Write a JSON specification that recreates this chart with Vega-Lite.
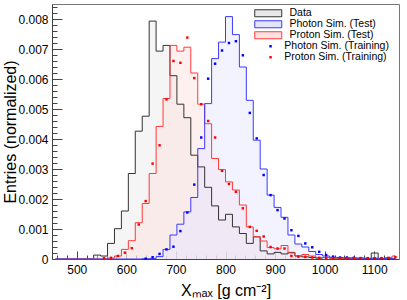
{
  "$schema": "https://vega.github.io/schema/vega-lite/v6.json",
  "width": 347,
  "height": 255,
  "autosize": {"type": "none"},
  "padding": {"left": 52, "top": 4, "right": 8, "bottom": 41},
  "background": "white",
  "config": {
    "font": "Liberation Sans",
    "view": {"stroke": "#777", "strokeWidth": 1},
    "axis": {"grid": false, "domainColor": "#444", "tickColor": "#444", "labelColor": "black", "titleColor": "black", "titleFontWeight": "normal", "labelFont": "Liberation Sans", "titleFont": "Liberation Sans"},
    "legend": {"labelFont": "Liberation Sans", "labelColor": "black"}
  },
  "datasets": {
    "dataHist": [
      {"x": 457, "y": 0}, {"x": 471, "y": 0}, {"x": 485, "y": 0}, {"x": 499, "y": 0}, {"x": 513, "y": 0},
      {"x": 527, "y": 0}, {"x": 541, "y": 0.00013}, {"x": 555, "y": 0.0001}, {"x": 569, "y": 0.00052}, {"x": 583, "y": 0.00101},
      {"x": 597, "y": 0.0016}, {"x": 611, "y": 0.00285}, {"x": 625, "y": 0.00426}, {"x": 639, "y": 0.00476}, {"x": 653, "y": 0.00793},
      {"x": 667, "y": 0.00693}, {"x": 681, "y": 0.00712}, {"x": 695, "y": 0.00611}, {"x": 709, "y": 0.00516}, {"x": 723, "y": 0.00471},
      {"x": 737, "y": 0.00346}, {"x": 751, "y": 0.00307}, {"x": 765, "y": 0.00239}, {"x": 779, "y": 0.00177}, {"x": 793, "y": 0.0013},
      {"x": 807, "y": 0.00149}, {"x": 821, "y": 0.00107}, {"x": 835, "y": 0.00085}, {"x": 849, "y": 0.00052}, {"x": 863, "y": 0.00074},
      {"x": 877, "y": 0.00027}, {"x": 891, "y": 0.00017}, {"x": 905, "y": 0.00022}, {"x": 919, "y": 0.00017}, {"x": 933, "y": 0.00022},
      {"x": 947, "y": 0.0001}, {"x": 961, "y": 0.00007}, {"x": 975, "y": 0.00005}, {"x": 989, "y": 0.00003}, {"x": 1003, "y": 0.00005},
      {"x": 1017, "y": 0.00003}, {"x": 1031, "y": 0.00003}, {"x": 1045, "y": 0.00002}, {"x": 1059, "y": 0.00003}, {"x": 1073, "y": 0},
      {"x": 1087, "y": 0.00002}, {"x": 1101, "y": 0.0002}, {"x": 1115, "y": 0.00002}, {"x": 1129, "y": 0.00003}, {"x": 1143, "y": 0}
    ],
    "photonTest": [
      {"x": 457, "y": 0}, {"x": 471, "y": 0}, {"x": 485, "y": 0}, {"x": 499, "y": 0}, {"x": 513, "y": 0},
      {"x": 527, "y": 0}, {"x": 541, "y": 0}, {"x": 555, "y": 0}, {"x": 569, "y": 0}, {"x": 583, "y": 0},
      {"x": 597, "y": 0}, {"x": 611, "y": 0}, {"x": 625, "y": 0}, {"x": 639, "y": 0.00001}, {"x": 653, "y": 0.00002},
      {"x": 667, "y": 0.00008}, {"x": 681, "y": 0.00032}, {"x": 695, "y": 0.0008}, {"x": 709, "y": 0.00116}, {"x": 723, "y": 0.00157},
      {"x": 737, "y": 0.00205}, {"x": 751, "y": 0.00368}, {"x": 765, "y": 0.00518}, {"x": 779, "y": 0.00668}, {"x": 793, "y": 0.00723},
      {"x": 807, "y": 0.00808}, {"x": 821, "y": 0.00748}, {"x": 835, "y": 0.0064}, {"x": 849, "y": 0.00529}, {"x": 863, "y": 0.00396},
      {"x": 877, "y": 0.003}, {"x": 891, "y": 0.00213}, {"x": 905, "y": 0.00172}, {"x": 919, "y": 0.00139}, {"x": 933, "y": 0.0008},
      {"x": 947, "y": 0.0005}, {"x": 961, "y": 0.0004}, {"x": 975, "y": 0.00025}, {"x": 989, "y": 0.00015}, {"x": 1003, "y": 0.0001},
      {"x": 1017, "y": 0.00006}, {"x": 1031, "y": 0.00005}, {"x": 1045, "y": 0.00004}, {"x": 1059, "y": 0.00003}, {"x": 1073, "y": 0.00003},
      {"x": 1087, "y": 0.00002}, {"x": 1101, "y": 0.00002}, {"x": 1115, "y": 0.00001}, {"x": 1129, "y": 0.00001}, {"x": 1143, "y": 0.00001}
    ],
    "protonTest": [
      {"x": 457, "y": 0}, {"x": 471, "y": 0}, {"x": 485, "y": 0}, {"x": 499, "y": 0}, {"x": 513, "y": 0},
      {"x": 527, "y": 0}, {"x": 541, "y": 0}, {"x": 555, "y": 0}, {"x": 569, "y": 0.00003}, {"x": 583, "y": 0.0001},
      {"x": 597, "y": 0.00032}, {"x": 611, "y": 0.00061}, {"x": 625, "y": 0.00121}, {"x": 639, "y": 0.00185}, {"x": 653, "y": 0.00285},
      {"x": 667, "y": 0.00442}, {"x": 681, "y": 0.00535}, {"x": 695, "y": 0.00712}, {"x": 709, "y": 0.00693}, {"x": 723, "y": 0.00706},
      {"x": 737, "y": 0.0062}, {"x": 751, "y": 0.00516}, {"x": 765, "y": 0.00451}, {"x": 779, "y": 0.00335}, {"x": 793, "y": 0.00298},
      {"x": 807, "y": 0.00257}, {"x": 821, "y": 0.0023}, {"x": 835, "y": 0.0018}, {"x": 849, "y": 0.00107}, {"x": 863, "y": 0.00074},
      {"x": 877, "y": 0.0006}, {"x": 891, "y": 0.00038}, {"x": 905, "y": 0.00034}, {"x": 919, "y": 0.00045}, {"x": 933, "y": 0.0002},
      {"x": 947, "y": 0.0001}, {"x": 961, "y": 0.00015}, {"x": 975, "y": 0.0001}, {"x": 989, "y": 0.00005}, {"x": 1003, "y": 0.00005},
      {"x": 1017, "y": 0.00003}, {"x": 1031, "y": 0.00003}, {"x": 1045, "y": 0.00003}, {"x": 1059, "y": 0.00002}, {"x": 1073, "y": 0.00003},
      {"x": 1087, "y": 0.00002}, {"x": 1101, "y": 0.00003}, {"x": 1115, "y": 0.00002}, {"x": 1129, "y": 0.00005}, {"x": 1143, "y": 0.0001}
    ],
    "photonTrain": [
      {"x": 639, "y": 0.00001}, {"x": 653, "y": 0.00006}, {"x": 667, "y": 0.00017}, {"x": 681, "y": 0.00032}, {"x": 695, "y": 0.00041},
      {"x": 709, "y": 0.00093}, {"x": 723, "y": 0.00155}, {"x": 737, "y": 0.00248}, {"x": 751, "y": 0.00405}, {"x": 765, "y": 0.00601},
      {"x": 779, "y": 0.00651}, {"x": 793, "y": 0.00695}, {"x": 807, "y": 0.0072}, {"x": 821, "y": 0.00726}, {"x": 835, "y": 0.00679},
      {"x": 849, "y": 0.00487}, {"x": 863, "y": 0.00402}, {"x": 877, "y": 0.0028}, {"x": 891, "y": 0.00213}, {"x": 905, "y": 0.00163},
      {"x": 919, "y": 0.00135}, {"x": 933, "y": 0.00096}, {"x": 947, "y": 0.00077}, {"x": 961, "y": 0.00052}, {"x": 975, "y": 0.00039},
      {"x": 989, "y": 0.00024}, {"x": 1003, "y": 0.00013}, {"x": 1017, "y": 0.00008}, {"x": 1031, "y": 0.00005}, {"x": 1045, "y": 0.00005},
      {"x": 1059, "y": 0.00004}, {"x": 1073, "y": 0.00003}, {"x": 1087, "y": 0.00002}, {"x": 1101, "y": 0.00002}, {"x": 1115, "y": 0.00002},
      {"x": 1129, "y": 0.00001}
    ],
    "protonTrain": [
      {"x": 555, "y": 0.00003}, {"x": 569, "y": 0.00004}, {"x": 583, "y": 0.0001}, {"x": 597, "y": 0.00021}, {"x": 611, "y": 0.00036},
      {"x": 625, "y": 0.00115}, {"x": 639, "y": 0.00193}, {"x": 653, "y": 0.00318}, {"x": 667, "y": 0.00379}, {"x": 681, "y": 0.00532},
      {"x": 695, "y": 0.0066}, {"x": 709, "y": 0.00654}, {"x": 723, "y": 0.00738}, {"x": 737, "y": 0.00603}, {"x": 751, "y": 0.00516},
      {"x": 765, "y": 0.0046}, {"x": 779, "y": 0.00405}, {"x": 793, "y": 0.00294}, {"x": 807, "y": 0.0025}, {"x": 821, "y": 0.00224},
      {"x": 835, "y": 0.00169}, {"x": 849, "y": 0.00107}, {"x": 863, "y": 0.00094}, {"x": 877, "y": 0.00075}, {"x": 891, "y": 0.0004},
      {"x": 905, "y": 0.00035}, {"x": 919, "y": 0.00035}, {"x": 933, "y": 0.0001}, {"x": 947, "y": 0.00008}, {"x": 961, "y": 0.00007},
      {"x": 975, "y": 0.00005}, {"x": 989, "y": 0.00004}, {"x": 1003, "y": 0.00004}, {"x": 1017, "y": 0.00003}, {"x": 1031, "y": 0.00003},
      {"x": 1045, "y": 0.00003}, {"x": 1059, "y": 0.00003}, {"x": 1073, "y": 0.00002}, {"x": 1087, "y": 0.00003}, {"x": 1101, "y": 0.00002},
      {"x": 1115, "y": 0.00003}, {"x": 1129, "y": 0.00004}, {"x": 1143, "y": 0.00006}
    ]
  },
  "encoding": {
    "x": {
      "field": "x", "type": "quantitative",
      "scale": {"domain": [450, 1150], "nice": false, "zero": false},
      "axis": {
        "values": [460, 480, 500, 520, 540, 560, 580, 600, 620, 640, 660, 680, 700, 720, 740, 760, 780, 800, 820, 840, 860, 880, 900, 920, 940, 960, 980, 1000, 1020, 1040, 1060, 1080, 1100, 1120, 1140],
        "format": "d",
        "labelExpr": "datum.value % 100 == 0 ? datum.label : ''",
        "tickSize": {"condition": {"test": "datum.value % 100 == 0", "value": -8}, "value": -4},
        "labelPadding": 13,
        "labelFontSize": 12,
        "labelFlush": false,
        "labelOverlap": false,
        "title": "Xₘₐₓ [g cm⁻²]",
        "titleFontSize": 16,
        "titleX": 173.5,
        "titleY": 36,
        "titleBaseline": "alphabetic",
        "titleAlign": "center"
      }
    },
    "y": {
      "field": "y", "type": "quantitative",
      "scale": {"domain": [0, 0.0085], "nice": false},
      "axis": {
        "values": [0, 0.0002, 0.0004, 0.0006, 0.0008, 0.001, 0.0012, 0.0014, 0.0016, 0.0018, 0.002, 0.0022, 0.0024, 0.0026, 0.0028, 0.003, 0.0032, 0.0034, 0.0036, 0.0038, 0.004, 0.0042, 0.0044, 0.0046, 0.0048, 0.005, 0.0052, 0.0054, 0.0056, 0.0058, 0.006, 0.0062, 0.0064, 0.0066, 0.0068, 0.007, 0.0072, 0.0074, 0.0076, 0.0078, 0.008, 0.0082, 0.0084],
        "labelExpr": "abs(datum.value*1000 - round(datum.value*1000)) < 0.01 ? format(datum.value, '.3~f') : ''",
        "tickSize": {"condition": {"test": "abs(datum.value*1000 - round(datum.value*1000)) < 0.01", "value": -10}, "value": -5},
        "labelPadding": 14,
        "labelFontSize": 12,
        "labelOverlap": false,
        "labelFlush": false,
        "title": "Entries (normalized)",
        "titleFontSize": 16,
        "titleAngle": 270,
        "titleX": -42,
        "titleY": 127.5,
        "titleAlign": "center",
        "titleBaseline": "middle"
      }
    }
  },
  "layer": [
    {
      "data": {"name": "dataHist"},
      "mark": {"type": "area", "interpolate": "step", "fillOpacity": 0.45},
      "encoding": {
        "fill": {
          "datum": "Data", "type": "nominal",
          "scale": {"domain": ["Data", "Photon Sim. (Test)", "Proton Sim. (Test)"], "range": ["#e8e8e8", "#e4e4ff", "#ffe2e2"]},
          "legend": {"title": null, "orient": "none", "legendX": 211, "legendY": 4, "symbolType": "M-3.86,-1H3.86V1H-3.86Z", "symbolSize": 49, "symbolStrokeWidth": 1, "labelOffset": 16, "labelFontSize": 10.5, "rowPadding": -1, "padding": 0}
        }
      }
    },
    {
      "data": {"name": "protonTest"},
      "mark": {"type": "area", "interpolate": "step", "fillOpacity": 0.5},
      "encoding": {"fill": {"datum": "Proton Sim. (Test)", "type": "nominal"}}
    },
    {
      "data": {"name": "photonTest"},
      "mark": {"type": "area", "interpolate": "step", "fillOpacity": 0.45},
      "encoding": {"fill": {"datum": "Photon Sim. (Test)", "type": "nominal"}}
    },
    {
      "data": {"name": "dataHist"},
      "mark": {"type": "line", "interpolate": "step", "strokeWidth": 1},
      "encoding": {
        "stroke": {
          "datum": "Data", "type": "nominal",
          "scale": {"domain": ["Data", "Photon Sim. (Test)", "Proton Sim. (Test)"], "range": ["#333333", "#3a3aff", "#ff3a3a"]},
          "legend": {"title": null, "orient": "none", "legendX": 211, "legendY": 4, "symbolType": "M-3.86,-1H3.86V1H-3.86Z", "symbolSize": 49, "symbolStrokeWidth": 1, "labelOffset": 16, "labelFontSize": 10.5, "rowPadding": -1, "padding": 0}
        }
      }
    },
    {
      "data": {"name": "protonTest"},
      "mark": {"type": "line", "interpolate": "step", "strokeWidth": 1},
      "encoding": {"stroke": {"datum": "Proton Sim. (Test)", "type": "nominal"}}
    },
    {
      "data": {"name": "photonTest"},
      "mark": {"type": "line", "interpolate": "step", "strokeWidth": 1},
      "encoding": {"stroke": {"datum": "Photon Sim. (Test)", "type": "nominal"}}
    },
    {
      "data": {"name": "photonTrain"},
      "mark": {"type": "square", "size": 6, "filled": true, "opacity": 1},
      "encoding": {
        "color": {
          "datum": "Photon Sim. (Training)", "type": "nominal",
          "scale": {"domain": ["Photon Sim. (Training)", "Proton Sim. (Training)"], "range": ["#0000ff", "#ff0000"]},
          "legend": {"title": null, "orient": "none", "legendX": 213.3, "legendY": 37, "symbolType": "square", "symbolSize": 6, "labelOffset": 8.5, "labelFontSize": 10.5, "rowPadding": -1, "padding": 0}
        }
      }
    },
    {
      "data": {"name": "protonTrain"},
      "mark": {"type": "square", "size": 6, "filled": true, "opacity": 1},
      "encoding": {"color": {"datum": "Proton Sim. (Training)", "type": "nominal"}}
    }
  ]
}
